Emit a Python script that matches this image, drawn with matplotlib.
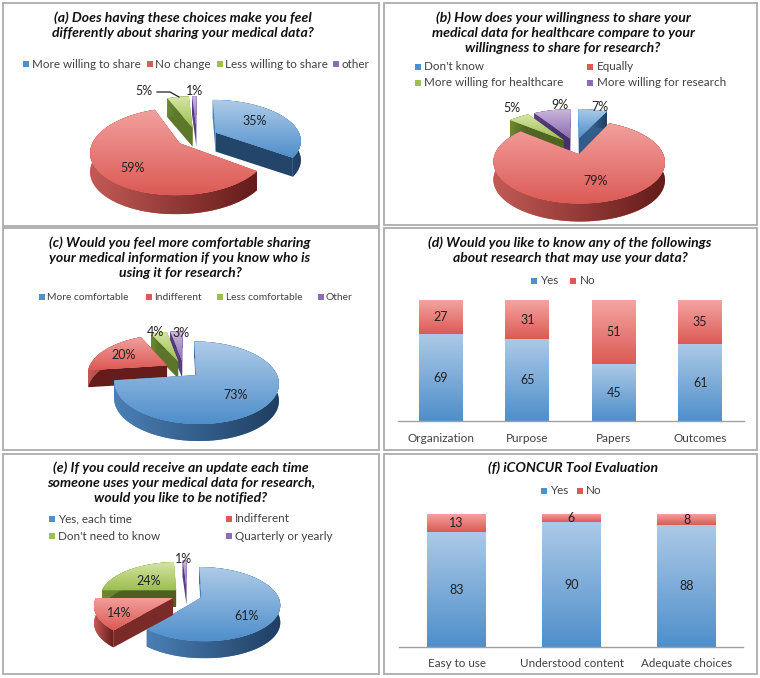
import numpy as np
import matplotlib
matplotlib.use("Agg")
import matplotlib.pyplot as plt
from matplotlib.colors import LinearSegmentedColormap, to_rgb
from matplotlib.patches import Polygon, Rectangle

W, H = 760, 678

# data
a_labels = ["More willing to share", "No change", "Less willing to share", "other"]
a_values = [35, 59, 5, 1]
b_labels = ["Don't know", "Equally", "More willing for healthcare", "More willing for research"]
b_values = [7, 79, 5, 9]
c_labels = ["More comfortable", "Indifferent", "Less comfortable", "Other"]
c_values = [73, 20, 4, 3]
e_labels = ["Yes, each time", "Indifferent", "Don't need to know", "Quarterly or yearly"]
e_values = [61, 14, 24, 1]
d_cats = ["Organization", "Purpose", "Papers", "Outcomes"]
d_yes = [69, 65, 45, 61]
d_no = [27, 31, 51, 35]
f_cats = ["Easy to use", "Understood content", "Adequate choices"]
f_yes = [83, 90, 88]
f_no = [13, 6, 8]

a_title = "(a) Does having these choices make you feel\ndifferently about sharing your medical data?"
b_title = "(b) How does your willingness to share your\nmedical data for healthcare compare to your\nwillingness to share for research?"
c_title = "(c) Would you feel more comfortable sharing\nyour medical information if you know who is\nusing it for research?"
d_title = "(d) Would you like to know any of the followings\nabout research that may use your data?"
e_title = "(e) If you could receive an update each time\nsomeone uses your medical data for research,\nwould you like to be notified?"
f_title = "(f) iCONCUR Tool Evaluation"

# colours: top light, top dark, side left, side right
blue = ("#AECBE8", "#4F8FCB", "#4A7FB5", "#1F3F62")
red = ("#F2A09D", "#DC5A55", "#C25A55", "#651C1A")
green = ("#D6E6A4", "#9DBE52", "#6B8A32", "#4C6022")
purple = ("#CBB9DD", "#8D6DB2", "#5A3F88", "#3A2860")
slices = [blue, red, green, purple]
TEXT = "#404040"

plt.rcParams["font.family"] = ["Lato", "DejaVu Sans"]
fig = plt.figure(figsize=(W / 100, H / 100), dpi=100, facecolor="white")


def fx(x):
    return x / W


def fy(y):
    return 1 - y / H


def px_axes(x0, y0, x1, y1, z=1):
    ax = fig.add_axes([fx(x0), fy(y1), (x1 - x0) / W, (y1 - y0) / H], zorder=z)
    ax.patch.set_alpha(0)
    return ax


def gradient(ax, patch, c0, c1, vertical=True):
    # paint a two colour gradient inside a patch
    verts = patch.get_path().vertices if isinstance(patch, Polygon) else patch.get_corners()
    x0, y0 = verts.min(axis=0)
    x1, y1 = verts.max(axis=0)
    g = np.linspace(0, 1, 64)
    g = g[:, None] if vertical else g[None, :]
    cmap = LinearSegmentedColormap.from_list("g", [c0, c1])
    im = ax.imshow(g, extent=(x0, x1, y0, y1), origin="upper", aspect="auto",
                   cmap=cmap, vmin=0, vmax=1, zorder=patch.get_zorder(), interpolation="bilinear")
    im.set_clip_path(patch)


def persp(xy, p):
    # the slight tilt of the 3D pie: nearer part drawn larger
    w = 1 + p * xy[:, 1]
    return np.column_stack([xy[:, 0] / w, xy[:, 1] / w])


def face_colour(s0, s1, dx, dy):
    # flat cut faces get darker the more they run sideways
    m = dx ** 2 / (dx ** 2 + dy ** 2)
    return tuple((1 - m) * np.array(to_rgb(s0)) + m * np.array(to_rgb(s1)))


def pie3d(values, cx, cy, rx, ry, depth, explode, p=0.18):
    ax = px_axes(cx - 1.6 * rx, cy - 1.8 * ry, cx + 1.6 * rx, cy + 2.2 * ry)
    wedges, _ = ax.pie(values, explode=explode, startangle=90, counterclock=False,
                       wedgeprops=dict(visible=False))
    ax.set_aspect("auto")
    d = np.array([0, depth / ry])
    shapes = []
    for i, w in enumerate(wedges):
        t = np.radians(np.linspace(w.theta1, w.theta2, 90))
        c = np.array(w.center)
        arc = persp(c + w.r * np.column_stack([np.cos(t), np.sin(t)]), p)
        apex = persp(c[None, :], p)
        shapes.append((arc[:, 1].mean() + apex[0, 1], i, arc, apex))
    z = 2
    for _, i, arc, apex in sorted(shapes, key=lambda s: -s[0]):
        light, dark, s0, s1 = slices[i]
        # cut faces, then rim, then top
        for end in (arc[0], arc[-1]):
            quad = np.vstack([apex, end[None, :], end[None, :] - d, apex - d])
            col = face_colour(s0, s1, (end[0] - apex[0, 0]) * rx, (end[1] - apex[0, 1]) * ry)
            ax.add_patch(Polygon(quad, closed=True, fc=col, ec="none", zorder=z))
        band = Polygon(np.vstack([arc, arc[::-1] - d]), closed=True, fc=s0, ec="none", zorder=z + 1)
        ax.add_patch(band)
        gradient(ax, band, s0, s1, vertical=False)
        top = Polygon(np.vstack([apex, arc]), closed=True, fc=dark, ec="none", zorder=z + 2)
        ax.add_patch(top)
        gradient(ax, top, light, dark)
        z += 3
    ax.set_xlim(-1.6, 1.6)
    ax.set_ylim(-2.2, 1.8)
    ax.axis("off")


def bars(cats, yes, no, x0, x1, first, step, width, base, top, tick_pad, tick_size):
    ax = px_axes(x0, top, x1, base)
    pos = np.arange(len(cats))
    by = ax.bar(pos, yes, width / step, color="none", zorder=2)
    bn = ax.bar(pos, no, width / step, bottom=yes, color="none", zorder=2)
    for r in by:
        gradient(ax, r, "#ABC9E7", "#4F8FCB")
    for r in bn:
        gradient(ax, r, "#F4A6A3", "#DC5A55")
    ax.bar_label(by, label_type="center", fontsize=9, color="#222222")
    ax.bar_label(bn, label_type="center", fontsize=9, color="#222222")
    ax.set_xlim((x0 - first) / step, (x1 - first) / step)
    ax.set_ylim(0, yes[0] + no[0])
    ax.set_xticks(pos, cats, fontsize=tick_size, color=TEXT)
    ax.tick_params(axis="x", length=0, pad=tick_pad)
    ax.set_yticks([])
    for s in ("top", "left", "right"):
        ax.spines[s].set_visible(False)
    ax.spines["bottom"].set_color("#A0A0A0")
    ax.spines["bottom"].set_linewidth(1.0)


def title(s, x, y):
    fig.text(fx(x), fy(y), s, ha="center", va="center", fontsize=10.1, fontweight="bold",
             fontstyle="italic", color="#111111", linespacing=1.3)


def legend(items, size=8.4):
    for (label, color, sx, tx, y) in items:
        fig.add_artist(Rectangle((fx(sx), fy(y + 3)), 6 / W, 6 / H, transform=fig.transFigure,
                                 fc=color, ec="none", zorder=3))
        fig.text(fx(tx), fy(y), label, ha="left", va="center", fontsize=size, color=TEXT)


def pct(values, places):
    for v, (x, y) in zip(values, places):
        fig.text(fx(x), fy(y), "%d%%" % v, ha="center", va="center", fontsize=9,
                 color="#222222", zorder=5)


# panel frames
for x0, y0, x1, y1 in [(3, 3, 379, 226), (384, 3, 757, 225), (3, 228, 379, 450),
                       (384, 228, 757, 450), (3, 454, 379, 674), (384, 454, 757, 674)]:
    fig.add_artist(Rectangle((fx(x0), fy(y1)), (x1 - x0) / W, (y1 - y0) / H, transform=fig.transFigure,
                             fc="white", ec="#ABABAB", lw=1.3, zorder=0))

leg_col = [c[1] for c in slices]

# (a)
title(a_title, 183, 25)
legend([(a_labels[0], leg_col[0], 23, 32, 64), (a_labels[1], leg_col[1], 147, 155, 64),
        (a_labels[2], leg_col[2], 217, 225, 64), (a_labels[3], leg_col[3], 333, 342, 64)])
pie3d(a_values, 197, 137, 85, 40, 19, [0.25, 0.25, 0.25, 0.25])
pct(a_values, [(255, 121), (133, 168), (144, 91), (195, 91)])
fig.add_artist(plt.Line2D([fx(157), fx(170), fx(179)], [fy(92), fy(92), fy(97)], color="#222222", lw=0.9, zorder=5))

# (b)
title(b_title, 563, 33)
legend([(b_labels[0], leg_col[0], 415, 424, 67), (b_labels[1], leg_col[1], 587, 597, 67),
        (b_labels[2], leg_col[2], 415, 424, 83), (b_labels[3], leg_col[3], 587, 597, 83)])
pie3d(b_values, 575, 146, 81, 37, 18, [0.22, 0.22, 0.22, 0.22])
pct(b_values, [(600, 107), (596, 181), (512, 108), (560, 105)])

# (c)
title(c_title, 180, 258)
legend([(c_labels[0], leg_col[0], 39, 47, 297), (c_labels[1], leg_col[1], 146, 154, 297),
        (c_labels[2], leg_col[2], 217, 226, 297), (c_labels[3], leg_col[3], 318, 326, 297)], size=7.4)
pie3d(c_values, 184, 370, 79, 38, 17, [0.2, 0.25, 0.25, 0.25])
pct(c_values, [(236, 395), (124, 355), (155, 332), (181, 333)])

# (d)
title(d_title, 570, 250)
legend([("Yes", leg_col[0], 531, 540, 281), ("No", leg_col[1], 570, 580, 281)])
bars(d_cats, d_yes, d_no, 398, 744, 441, 86.4, 44, 421, 300, 9, 8.5)

# (e)
title(e_title, 181, 483)
legend([(e_labels[0], leg_col[0], 49, 58, 519), (e_labels[1], leg_col[1], 226, 235, 519),
        (e_labels[2], leg_col[2], 49, 58, 536), (e_labels[3], leg_col[3], 226, 235, 536)])
pie3d(e_values, 187, 595, 76, 35, 17, [0.2, 0.2, 0.2, 0.2])
pct(e_values, [(247, 616), (119, 613), (149, 581), (184, 559)])

# (f)
title(f_title, 573, 468)
legend([("Yes", leg_col[0], 541, 550, 491), ("No", leg_col[1], 577, 586, 491)])
bars(f_cats, f_yes, f_no, 399, 743, 456.5, 115, 59, 647, 514, 8, 8.4)

fig.savefig("out.png", dpi=100)
